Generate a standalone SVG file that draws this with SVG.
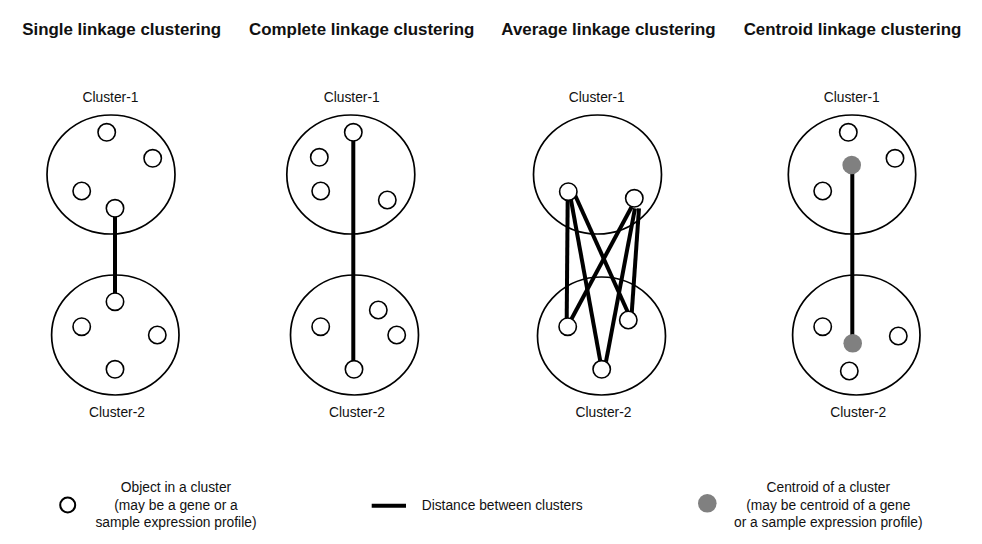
<svg xmlns="http://www.w3.org/2000/svg" width="982" height="544" viewBox="0 0 982 544">
<style>
.title{font-family:"Liberation Sans",Arial,sans-serif;font-weight:bold;font-size:16.9px;fill:#111;text-anchor:middle}
.lbl{font-family:"Liberation Sans",Arial,sans-serif;font-size:13.8px;fill:#111;text-anchor:middle}
.leg{font-family:"Liberation Sans",Arial,sans-serif;font-size:13.8px;fill:#111}
.clu{fill:none;stroke:#000;stroke-width:1.7}
.obj{fill:#fff;stroke:#000;stroke-width:1.6}
.cen{fill:#808080;stroke:none}
.dist{stroke:#000;stroke-width:4;fill:none}
</style>
<rect width="982" height="544" fill="#fff"/>
<g id="titles">
<text class="title" x="121.7" y="34.5">Single linkage clustering</text>
<text class="title" x="361.7" y="34.5">Complete linkage clustering</text>
<text class="title" x="608.5" y="34.5">Average linkage clustering</text>
<text class="title" x="852.5" y="34.5">Centroid linkage clustering</text>
</g>
<g id="connectors">
<line class="dist" x1="115" y1="208" x2="115" y2="302"/>
<line class="dist" x1="353.3" y1="132" x2="353.3" y2="369"/>
<line class="dist" x1="567.7" y1="196.7" x2="566.7" y2="320"/>
<line class="dist" x1="570.7" y1="198.3" x2="600.7" y2="363.3"/>
<line class="dist" x1="575" y1="195" x2="628.3" y2="313.3"/>
<line class="dist" x1="631.7" y1="206.7" x2="570" y2="321.7"/>
<line class="dist" x1="635" y1="208.3" x2="606" y2="361.7"/>
<line class="dist" x1="639" y1="208.3" x2="631.7" y2="313.3"/>
<line class="dist" x1="852.3" y1="165" x2="852.3" y2="343.3"/>
</g>
<g id="single-cluster-1">
<text class="lbl" x="110.5" y="102">Cluster-1</text>
<ellipse class="clu" cx="111" cy="174.5" rx="64" ry="59.5"/>
<circle class="obj" cx="106.7" cy="132.3" r="8.7"/>
<circle class="obj" cx="152.7" cy="158.3" r="8.7"/>
<circle class="obj" cx="81.7" cy="191" r="8.7"/>
<circle class="obj" cx="115" cy="208.3" r="8.7"/>
</g>
<g id="single-cluster-2">
<ellipse class="clu" cx="115.3" cy="335" rx="63.7" ry="60"/>
<circle class="obj" cx="115" cy="301.7" r="8.7"/>
<circle class="obj" cx="81.7" cy="326.7" r="8.7"/>
<circle class="obj" cx="157.3" cy="335" r="8.7"/>
<circle class="obj" cx="115" cy="369.3" r="8.7"/>
<text class="lbl" x="117" y="416.5">Cluster-2</text>
</g>
<g id="complete-cluster-1">
<text class="lbl" x="351.7" y="102">Cluster-1</text>
<ellipse class="clu" cx="350.8" cy="174.5" rx="64" ry="59.5"/>
<circle class="obj" cx="353.3" cy="132.3" r="8.7"/>
<circle class="obj" cx="319.3" cy="157.3" r="8.7"/>
<circle class="obj" cx="320.7" cy="191" r="8.7"/>
<circle class="obj" cx="387.3" cy="200" r="8.7"/>
</g>
<g id="complete-cluster-2">
<ellipse class="clu" cx="354.5" cy="335" rx="64" ry="60"/>
<circle class="obj" cx="378.3" cy="310" r="8.7"/>
<circle class="obj" cx="320.7" cy="326.7" r="8.7"/>
<circle class="obj" cx="396.7" cy="335" r="8.7"/>
<circle class="obj" cx="354" cy="369.3" r="8.7"/>
<text class="lbl" x="357" y="416.5">Cluster-2</text>
</g>
<g id="average-cluster-1">
<text class="lbl" x="596.7" y="102">Cluster-1</text>
<ellipse class="clu" cx="597.5" cy="174.5" rx="64" ry="59.5"/>
<circle class="obj" cx="568.3" cy="191.7" r="8.7"/>
<circle class="obj" cx="634.3" cy="198.3" r="8.7"/>
</g>
<g id="average-cluster-2">
<ellipse class="clu" cx="601.5" cy="336" rx="64" ry="59"/>
<circle class="obj" cx="567.7" cy="326.7" r="8.7"/>
<circle class="obj" cx="628.3" cy="320" r="8.7"/>
<circle class="obj" cx="601.7" cy="369.3" r="8.7"/>
<text class="lbl" x="603.5" y="416.5">Cluster-2</text>
</g>
<g id="centroid-cluster-1">
<text class="lbl" x="851.7" y="102">Cluster-1</text>
<ellipse class="clu" cx="852" cy="174.5" rx="63.7" ry="59.5"/>
<circle class="obj" cx="848.3" cy="132.3" r="8.7"/>
<circle class="obj" cx="895" cy="158.3" r="8.7"/>
<circle class="obj" cx="822.7" cy="191" r="8.7"/>
<circle class="cen" cx="851.7" cy="165" r="9.3"/>
</g>
<g id="centroid-cluster-2">
<ellipse class="clu" cx="856.3" cy="335" rx="63.7" ry="60"/>
<circle class="obj" cx="822.7" cy="326.7" r="8.7"/>
<circle class="obj" cx="898.3" cy="336" r="8.7"/>
<circle class="obj" cx="849.3" cy="371" r="8.7"/>
<circle class="cen" cx="852.7" cy="343.3" r="9.3"/>
<text class="lbl" x="858.3" y="416.5">Cluster-2</text>
</g>
<g id="legend-object">
<circle cx="67.7" cy="505" r="7.5" fill="#fff" stroke="#000" stroke-width="2"/>
<text class="lbl" x="176" y="492.3">Object in a cluster</text>
<text class="lbl" x="176" y="509.5">(may be a gene or a</text>
<text class="lbl" x="176" y="526.5">sample expression profile)</text>
</g>
<g id="legend-distance">
<line class="dist" x1="371.7" y1="505.7" x2="406" y2="505.7"/>
<text class="leg" x="421.7" y="510">Distance between clusters</text>
</g>
<g id="legend-centroid">
<circle class="cen" cx="707.3" cy="503.3" r="9.3"/>
<text class="lbl" x="828.3" y="492.3">Centroid of a cluster</text>
<text class="lbl" x="828.3" y="509.5">(may be centroid of a gene</text>
<text class="lbl" x="828.3" y="526.5">or a sample expression profile)</text>
</g>
</svg>
